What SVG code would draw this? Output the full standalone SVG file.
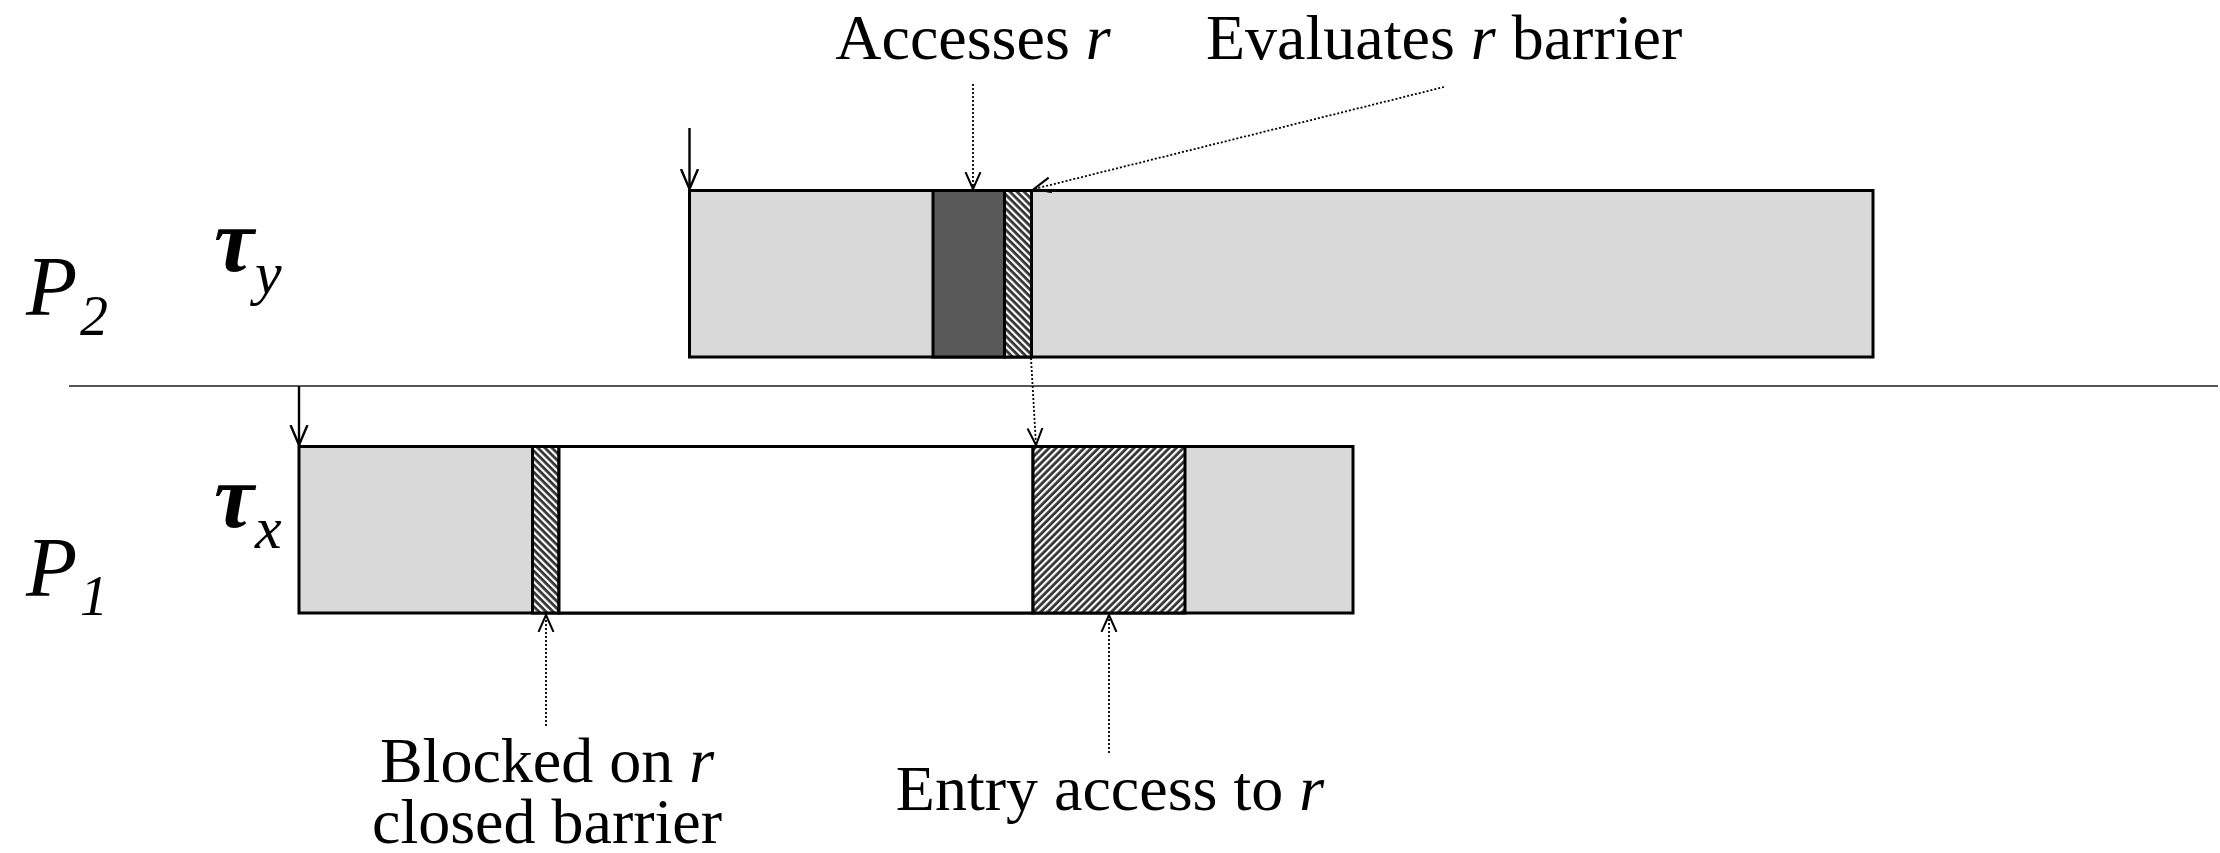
<svg xmlns="http://www.w3.org/2000/svg" width="2220" height="853" viewBox="0 0 2220 853">
<style>
.t{font-family:"Liberation Serif","Times New Roman",serif;fill:#000}
.lbl{font-size:64px}
.it{font-style:italic}
.box{stroke:#000;stroke-width:3}
.gray{fill:#d9d9d9}
.dark{fill:#595959}
.white{fill:#fff}
.solid{stroke:#000;stroke-width:2.4;fill:none}
.dot{stroke:#000;stroke-width:1.8;stroke-dasharray:2 2;fill:none}
</style>
<defs>
<pattern id="hs" patternUnits="userSpaceOnUse" width="5" height="10" patternTransform="rotate(-45)">
<rect width="5" height="10" fill="#333"/>
<rect width="2.2" height="10" fill="#fff"/>
</pattern>
<pattern id="hb" patternUnits="userSpaceOnUse" width="5" height="10" patternTransform="rotate(45)">
<rect width="5" height="10" fill="#333"/>
<rect width="2.2" height="10" fill="#fff"/>
</pattern>
<marker id="ah" viewBox="0 0 20 20" refX="17" refY="10" markerUnits="userSpaceOnUse" markerWidth="20" markerHeight="20" orient="auto">
<path d="M0,2.5 L17,10 L0,17.5" fill="none" stroke="#000" stroke-width="2"/>
</marker>
<marker id="ahs" viewBox="0 0 22 22" refX="20" refY="11" markerUnits="userSpaceOnUse" markerWidth="22" markerHeight="22" orient="auto">
<path d="M0,2.5 L20,11 L0,19.5" fill="none" stroke="#000" stroke-width="2.4"/>
</marker>
</defs>
<rect width="2220" height="853" fill="#fff"/>

<g id="divider">
<line x1="69" y1="386" x2="2218" y2="386" stroke="#555" stroke-width="2"/>
</g>

<g id="P2-label">
<text class="t it" x="26" y="315" font-size="84">P</text>
<text class="t it" x="80" y="335" font-size="56">2</text>
</g>
<g id="P1-label">
<text class="t it" x="26" y="596" font-size="84">P</text>
<text class="t it" x="80" y="615" font-size="56">1</text>
</g>
<g id="tau-y">
<text class="t it" x="214" y="271" font-size="90" font-weight="bold">τ</text>
<text class="t it" x="255" y="293" font-size="60">y</text>
</g>
<g id="tau-x">
<text class="t it" x="214" y="527" font-size="90" font-weight="bold">τ</text>
<text class="t it" x="255" y="548" font-size="60">x</text>
</g>

<g id="task-y">
<rect class="box gray" x="689.5" y="190.5" width="1183.5" height="166.5"/>
<rect class="box dark" x="933" y="190.5" width="71.5" height="166.5"/>
<rect class="box" fill="url(#hs)" x="1004.5" y="190.5" width="27" height="166.5"/>
</g>

<g id="task-x">
<rect class="box gray" x="299" y="446.5" width="1054" height="166.5"/>
<rect class="box" fill="url(#hs)" x="532.5" y="446.5" width="26.5" height="166.5"/>
<rect class="box white" x="559" y="446.5" width="474" height="166.5"/>
<rect class="box" fill="url(#hb)" x="1033" y="446.5" width="152" height="166.5"/>
</g>

<g id="connectors">
<line class="solid" x1="689.5" y1="128" x2="689.5" y2="189" marker-end="url(#ahs)"/>
<line class="solid" x1="299" y1="386" x2="299" y2="445" marker-end="url(#ahs)"/>
<line class="dot" x1="973" y1="84" x2="973" y2="189" marker-end="url(#ah)"/>
<line class="dot" x1="1444" y1="87" x2="1034" y2="189" marker-end="url(#ah)"/>
<line class="dot" x1="1031" y1="358" x2="1036" y2="445" marker-end="url(#ah)"/>
<line class="dot" x1="546" y1="726" x2="546" y2="615" marker-end="url(#ah)"/>
<line class="dot" x1="1109" y1="753" x2="1109" y2="615" marker-end="url(#ah)"/>
</g>

<g id="label-accesses">
<text class="t lbl" x="973" y="59" text-anchor="middle">Accesses <tspan class="it">r</tspan></text>
</g>
<g id="label-evaluates">
<text class="t lbl" x="1206" y="59">Evaluates <tspan class="it">r</tspan> barrier</text>
</g>
<g id="label-blocked">
<text class="t lbl" x="547" y="782" text-anchor="middle">Blocked on <tspan class="it">r</tspan></text>
<text class="t lbl" x="547" y="843" text-anchor="middle">closed barrier</text>
</g>
<g id="label-entry">
<text class="t lbl" x="1110" y="810" text-anchor="middle">Entry access to <tspan class="it">r</tspan></text>
</g>
</svg>
